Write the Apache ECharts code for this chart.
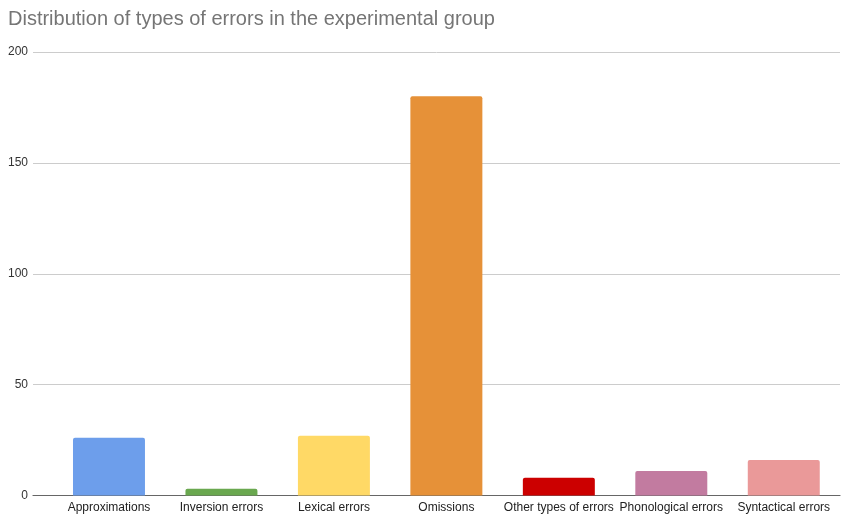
<!DOCTYPE html>
<html>
<head>
<meta charset="utf-8">
<script src="https://cdn.jsdelivr.net/npm/echarts@6/dist/echarts.min.js"></script>
<style>
html,body{margin:0;padding:0;background:#fff;}
#chart{width:851px;height:516px;}
</style>
</head>
<body>
<div id="chart"></div>
<script>
const categories = ['Approximations', 'Inversion errors', 'Lexical errors', 'Omissions', 'Other types of errors', 'Phonological errors', 'Syntactical errors'];
const counts = [26, 3, 27, 180, 8, 11, 16];
const barColors = ['#6d9eeb', '#6aa84f', '#ffd966', '#e69138', '#cc0000', '#c27ba0', '#ea9999'];
const yTicks = { min: 0, max: 200, interval: 50 };

const font = 'Liberation Sans, Arial, sans-serif';
const chart = echarts.init(document.getElementById('chart'));
chart.setOption({
  animation: false,
  title: {
    text: 'Distribution of types of errors in the experimental group',
    left: 3,
    top: 4,
    textStyle: { fontFamily: font, fontSize: 20, fontWeight: 'normal', color: '#757575' }
  },
  // grid 0 carries the value scale, gridlines and baseline; grid 1 holds the bars
  grid: [
    { left: 33, right: 11, top: 52, bottom: 20.5 },
    { left: 52.75, right: 11, top: 52, bottom: 20.5 }
  ],
  xAxis: [
    {
      gridIndex: 0, type: 'value', min: 0, max: 1,
      axisLine: { show: true, onZero: false, lineStyle: { color: '#666', width: 1.2 } },
      axisTick: { show: false }, axisLabel: { show: false }, splitLine: { show: false }
    },
    {
      gridIndex: 1, type: 'category', data: categories,
      axisLine: { show: false },
      axisTick: { show: false },
      axisLabel: { color: '#222', fontFamily: font, fontSize: 12, margin: 6, interval: 0 }
    }
  ],
  yAxis: [
    {
      gridIndex: 0, type: 'value',
      min: yTicks.min, max: yTicks.max, interval: yTicks.interval,
      axisLine: { show: false }, axisTick: { show: false },
      splitLine: { lineStyle: { color: '#cccccc' } },
      axisLabel: { color: '#333', fontFamily: font, fontSize: 12, margin: 5 }
    },
    {
      gridIndex: 1, type: 'value',
      min: yTicks.min, max: yTicks.max, interval: yTicks.interval,
      show: false
    }
  ],
  series: [{
    type: 'bar',
    xAxisIndex: 1,
    yAxisIndex: 1,
    data: counts.map((v, i) => ({ value: v, itemStyle: { color: barColors[i] } })),
    barWidth: '64%',
    z: 1,
    itemStyle: { borderRadius: [2, 2, 0, 0] }
  }]
});
</script>
</body>
</html>
